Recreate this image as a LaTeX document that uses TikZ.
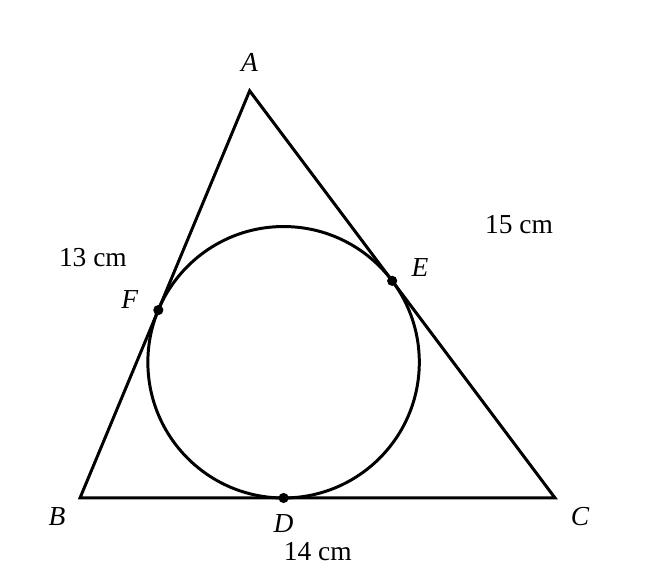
\documentclass[tikz,border=0pt]{standalone}
\usepackage{fontspec}
\setmainfont{Liberation Serif}
\begin{document}
\begin{tikzpicture}[x=1cm, y=1cm, line width=2.5pt, font=\fontsize{23}{27}\selectfont]
  \tikzset{
    pt/.style = {circle, fill, inner sep=0pt, minimum size=0.3cm},
    lbl/.style = {inner sep=0pt}
  }
  \useasboundingbox (-2.358,-2.417) rectangle (17.094,14.677);

  \coordinate (B) at (0,0);
  \coordinate (C) at (14,0);
  \coordinate (A) at (5,12);
  \coordinate (I) at (6,4);

  \draw (A) -- (B) -- (C) -- cycle;
  \draw (I) circle (4);

  \node[pt] (D) at (6,0) {};
  \node[pt] (E) at (9.2,6.4) {};
  \node[pt] (F) at (2.308,5.538) {};

  \node[lbl] (lA) at (5,12.85) {\textit{A}};
  \node[lbl] (lB) at (-0.68,-0.56) {\textit{B}};
  \node[lbl] (lC) at (14.74,-0.56) {\textit{C}};
  \node[lbl] (lD) at (6,-0.74) {\textit{D}};
  \node[lbl] (lE) at (10.02,6.78) {\textit{E}};
  \node[lbl] (lF) at (1.47,5.84) {\textit{F}};

  \node[lbl] (ab) at (0.38,7.10) {13 cm};
  \node[lbl] (ac) at (12.94,8.05) {15 cm};
  \node[lbl] (bc) at (7.01,-1.59) {14 cm};
\end{tikzpicture}
\end{document}
